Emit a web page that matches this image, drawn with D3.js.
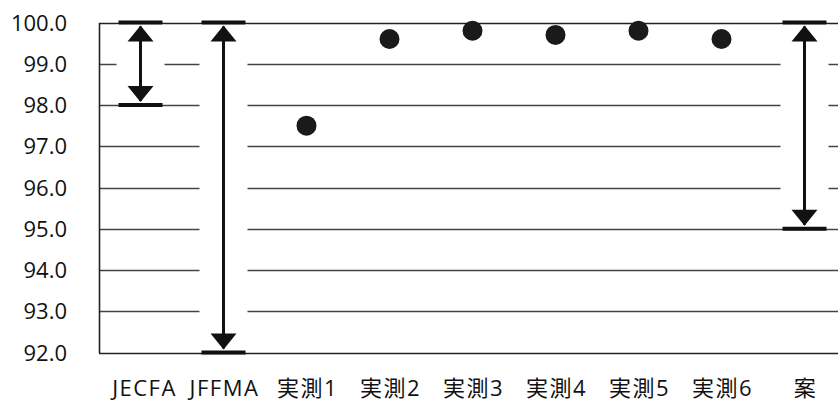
<!DOCTYPE html>
<html>
<head>
<meta charset="utf-8">
<script src="https://cdn.jsdelivr.net/npm/d3@7"></script>
<style>
  body { margin: 0; background: #fff; }
  text { font-family: "Open Sans", "Noto Sans CJK JP", sans-serif; fill: #111; }
</style>
</head>
<body>
<script>
// categories along the bottom
var categories = ["JECFA", "JFFMA", "実測1", "実測2", "実測3", "実測4", "実測5", "実測6", "案"];

// ranges drawn as double arrows (low .. high)
var rangeCats = ["JECFA", "JFFMA", "案"];
var rangeLow  = [98.0, 92.0, 95.0];
var rangeHigh = [100.0, 100.0, 100.0];

// measured points
var pointCats   = ["実測1", "実測2", "実測3", "実測4", "実測5", "実測6"];
var pointValues = [97.5, 99.6, 99.8, 99.7, 99.8, 99.6];

var yTicks = [92, 93, 94, 95, 96, 97, 98, 99, 100];

var W = 838, H = 401;
var mLeft = 99, mTop = 22.5, mBottom = 352.5;
var band = 83;

var svg = d3.select("body").append("svg")
    .attr("width", W)
    .attr("height", H);

var x = d3.scaleBand()
    .domain(categories)
    .range([mLeft, mLeft + band * categories.length]);

var y = d3.scaleLinear()
    .domain([92, 100])
    .range([mBottom, mTop]);

// gridlines
svg.append("g")
    .selectAll("line")
    .data(yTicks)
    .enter().append("line")
    .attr("x1", mLeft)
    .attr("x2", W)
    .attr("y1", function(d) { return Math.round(y(d)) + 0.5; })
    .attr("y2", function(d) { return Math.round(y(d)) + 0.5; })
    .attr("stroke", function(d) { return d == 100 || d == 92 ? "#222" : "#444"; })
    .attr("stroke-width", function(d) { return d == 100 || d == 92 ? 1.6 : 1.3; });

// y axis (labels only, plus the vertical line)
var yAxis = d3.axisLeft(y)
    .tickValues(yTicks)
    .tickSize(0)
    .tickPadding(32)
    .tickFormat(d3.format(".1f"));

var gy = svg.append("g")
    .attr("transform", "translate(" + mLeft + ",0)")
    .call(yAxis);
gy.select(".domain").attr("stroke", "#222").attr("stroke-width", 1.6);
gy.selectAll("text")
    .style("font-size", "22px")
    .style("font-family", "'Open Sans', sans-serif")
    .attr("dy", "0.35em");

// x labels
var xAxis = d3.axisBottom(x).tickSize(0).tickPadding(0);
var gx = svg.append("g")
    .attr("transform", "translate(0," + mBottom + ")")
    .call(xAxis);
gx.select(".domain").remove();
gx.selectAll("text")
    .attr("y", 43)
    .attr("dy", 0)
    .attr("dx", function(d) { return d == "JECFA" ? 4 : 1; })
    .style("font-size", "22px")
    .style("letter-spacing", "1.5px")
    .style("font-family", "'Open Sans', 'Noto Sans CJK JP', sans-serif");

// range arrows
var ranges = rangeCats.map(function(c, i) {
    return {cat: c, low: rangeLow[i], high: rangeHigh[i]};
});

var capW = 44, headW = 26, headH = 16, gapW = 48;

var rg = svg.append("g").selectAll("g")
    .data(ranges)
    .enter().append("g")
    .attr("transform", function(d) { return "translate(" + (x(d.cat) + x.bandwidth() / 2) + ",0)"; });

// break the gridlines behind the arrow
rg.append("rect")
    .attr("x", -gapW / 2)
    .attr("width", gapW)
    .attr("y", function(d) { return y(d.high) + 2; })
    .attr("height", function(d) { return y(d.low) - y(d.high) - 4; })
    .attr("fill", "#fff");

// caps
rg.append("line")
    .attr("x1", -capW / 2).attr("x2", capW / 2)
    .attr("y1", function(d) { return y(d.high); })
    .attr("y2", function(d) { return y(d.high); })
    .attr("stroke", "#111").attr("stroke-width", 4);
rg.append("line")
    .attr("x1", -capW / 2).attr("x2", capW / 2)
    .attr("y1", function(d) { return y(d.low); })
    .attr("y2", function(d) { return y(d.low); })
    .attr("stroke", "#111").attr("stroke-width", 4);

// shaft
rg.append("line")
    .attr("x1", 0).attr("x2", 0)
    .attr("y1", function(d) { return y(d.high) + 4; })
    .attr("y2", function(d) { return y(d.low) - 4; })
    .attr("stroke", "#111").attr("stroke-width", 3);

// heads
rg.append("path")
    .attr("d", function(d) {
        var t = y(d.high) + 3;
        return "M0," + t + "L" + (headW / 2) + "," + (t + headH) + "L" + (-headW / 2) + "," + (t + headH) + "Z";
    })
    .attr("fill", "#111");
rg.append("path")
    .attr("d", function(d) {
        var b = y(d.low) - 3;
        return "M0," + b + "L" + (headW / 2) + "," + (b - headH) + "L" + (-headW / 2) + "," + (b - headH) + "Z";
    })
    .attr("fill", "#111");

// measured points
svg.append("g").selectAll("circle")
    .data(pointCats)
    .enter().append("circle")
    .attr("cx", function(d) { return x(d) + x.bandwidth() / 2; })
    .attr("cy", function(d, i) { return y(pointValues[i]); })
    .attr("r", 10)
    .attr("fill", "#1a1a1a");
</script>
</body>
</html>
